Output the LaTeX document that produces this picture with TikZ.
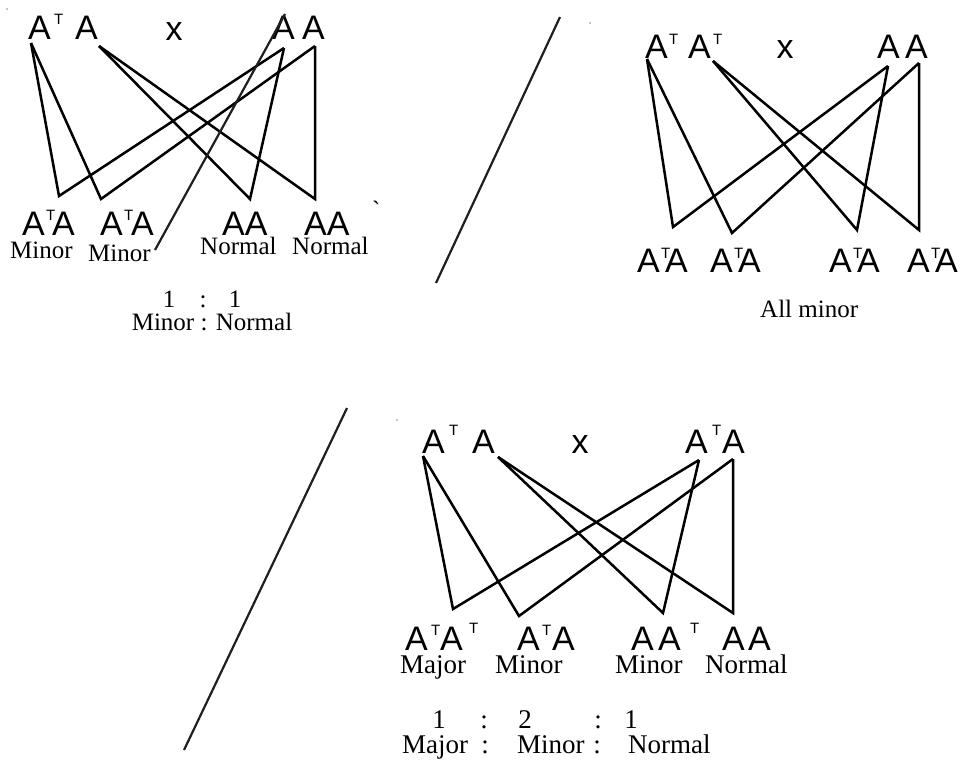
\documentclass[tikz,border=0pt]{standalone}
\usepackage{fontspec}
\setmainfont{Liberation Serif}
\newfontfamily\sansA{Liberation Sans}
\tikzset{
  g/.style={font=\sansA\fontsize{34}{34}\selectfont, inner sep=0pt, anchor=base west},
  gt/.style={font=\sansA\fontsize{15}{15}\selectfont, inner sep=0pt, anchor=base west},
  lb/.style={font=\fontsize{25}{25}\selectfont, inner sep=0pt, anchor=base west},
  lc/.style={font=\fontsize{25}{25}\selectfont, inner sep=0pt, anchor=base},
  lb3/.style={font=\fontsize{27}{27}\selectfont, inner sep=0pt, anchor=base west},
  lc3/.style={font=\fontsize{27}{27}\selectfont, inner sep=0pt, anchor=base},
  cross/.style={line width=2.5pt, line join=miter},
  slash/.style={line width=2.2pt, draw=black!88},
}
\begin{document}
\begin{tikzpicture}[x=1pt,y=-1pt]
\useasboundingbox[fill=white] (0,0) rectangle (964,761);

% ---------------- Panel 1 ----------------
\node[g]  (p1a)  at (28,39)  {A};
\node[gt] (p1aT) at (54,24)  {T};
\node[g]  (p1b)  at (75,39)  {A};
\node[g, anchor=base] (p1x) at (174,40) {x};
\node[g]  (p1c)  at (272,39) {A};
\node[g]  (p1d)  at (302,39) {A};

\coordinate (p1t1) at (31,43);
\coordinate (p1t2) at (99,46);
\coordinate (p1t3) at (284,48);
\coordinate (p1t4) at (315,46);
\coordinate (p1b1) at (59,196);
\coordinate (p1b2) at (101,199);
\coordinate (p1b3) at (250,199);
\coordinate (p1b4) at (315,199);
\draw[cross] (p1t1) -- (p1b1) -- (p1t3);
\draw[cross] (p1t1) -- (p1b2) -- (p1t4);
\draw[cross] (p1t2) -- (p1b3) -- (p1t3);
\draw[cross] (p1t2) -- (p1b4) -- (p1t4);

\node[g]  (p1e1)  at (22,235)  {A};
\node[gt] (p1e1T) at (46,220)  {T};
\node[g]  (p1e2)  at (52,235)  {A};
\node[g]  (p1f1)  at (100,235) {A};
\node[gt] (p1f1T) at (124,220) {T};
\node[g]  (p1f2)  at (131,235) {A};
\node[g]  (p1g)   at (222,235) {AA};
\node[g]  (p1h)   at (304,235) {AA};
\node[lb] (p1tick) at (372,218) {\textasciigrave};

\coordinate (p1s1) at (155,250);
\coordinate (p1s2) at (285,14);
\draw[slash] (p1s1) -- (p1s2);

\node[lb] (p1m1) at (10,258)  {Minor};
\node[lb] (p1m2) at (88,261)  {Minor};
\node[lb] (p1n1) at (200,254) {Normal};
\node[lb] (p1n2) at (292,254) {Normal};

\node[lc] (p1r1) at (169,307) {1};
\node[lc] (p1r2) at (203,307) {:};
\node[lc] (p1r3) at (235,307) {1};
\node[lc] (p1q)  at (212,330) {Minor : Normal};
\fill (7,9) circle (0.6);

% divider
\coordinate (d1a) at (560,17);
\coordinate (d1b) at (436,283);
\draw[slash] (d1a) -- (d1b);

% ---------------- Panel 2 ----------------
\node[g]  (p2a)  at (645,58) {A};
\node[gt] (p2aT) at (669,44) {T};
\node[g]  (p2b)  at (688,58) {A};
\node[gt] (p2bT) at (713,44) {T};
\node[g, anchor=base] (p2x) at (785,58) {x};
\node[g]  (p2c)  at (877,58) {A};
\node[g]  (p2d)  at (905,58) {A};

\coordinate (p2t1) at (647,59);
\coordinate (p2t2) at (713,61);
\coordinate (p2t3) at (888,66);
\coordinate (p2t4) at (919,63);
\coordinate (p2b1) at (673,227);
\coordinate (p2b2) at (732,233);
\coordinate (p2b3) at (857,230);
\coordinate (p2b4) at (919,230);
\draw[cross] (p2t1) -- (p2b1) -- (p2t3);
\draw[cross] (p2t1) -- (p2b2) -- (p2t4);
\draw[cross] (p2t2) -- (p2b3) -- (p2t3);
\draw[cross] (p2t2) -- (p2b4) -- (p2t4);

\node[g]  (p2e1)  at (637,272) {A};
\node[gt] (p2e1T) at (661,258) {T};
\node[g]  (p2e2)  at (665,272) {A};
\node[g]  (p2f1)  at (710,272) {A};
\node[gt] (p2f1T) at (734,258) {T};
\node[g]  (p2f2)  at (738,272) {A};
\node[g]  (p2g1)  at (829,272) {A};
\node[gt] (p2g1T) at (853,258) {T};
\node[g]  (p2g2)  at (857,272) {A};
\node[g]  (p2h1)  at (907,272) {A};
\node[gt] (p2h1T) at (931,258) {T};
\node[g]  (p2h2)  at (935,272) {A};

\node[lb] (p2all) at (760,317) {All minor};
\fill (590,23) circle (0.6);

% divider
\coordinate (d2a) at (347,408);
\coordinate (d2b) at (184,750);
\draw[slash] (d2a) -- (d2b);

% ---------------- Panel 3 ----------------
\node[g]  (p3a)  at (422,453) {A};
\node[gt] (p3aT) at (449,435) {T};
\node[g]  (p3b)  at (472,453) {A};
\node[g, anchor=base] (p3x) at (580,453) {x};
\node[g]  (p3c)  at (685,453) {A};
\node[gt] (p3cT) at (712,435) {T};
\node[g]  (p3d)  at (722,453) {A};

\coordinate (p3t1) at (423,456);
\coordinate (p3t2) at (498,457);
\coordinate (p3t3) at (699,460);
\coordinate (p3t4) at (733,459);
\coordinate (p3b1) at (453,609);
\coordinate (p3b2) at (519,616);
\coordinate (p3b3) at (663,613);
\coordinate (p3b4) at (733,613);
\draw[cross] (p3t1) -- (p3b1) -- (p3t3);
\draw[cross] (p3t1) -- (p3b2) -- (p3t4);
\draw[cross] (p3t2) -- (p3b3) -- (p3t3);
\draw[cross] (p3t2) -- (p3b4) -- (p3t4);

\node[g]  (p3e1)  at (405,650) {A};
\node[gt] (p3e1T) at (431,635) {T};
\node[g]  (p3e2)  at (440,650) {A};
\node[gt] (p3e2T) at (469,633) {T};
\node[g]  (p3f1)  at (517,650) {A};
\node[gt] (p3f1T) at (542,635) {T};
\node[g]  (p3f2)  at (552,650) {A};
\node[g]  (p3g1)  at (631,650) {A};
\node[g]  (p3g2)  at (658,650) {A};
\node[gt] (p3g2T) at (690,633) {T};
\node[g]  (p3h1)  at (722,650) {A};
\node[g]  (p3h2)  at (748,650) {A};

\node[lb3] (p3l1) at (400,673) {Major};
\node[lb3] (p3l2) at (495,673) {Minor};
\node[lb3] (p3l3) at (615,673) {Minor};
\node[lb3] (p3l4) at (705,673) {Normal};

\node[lc3] (p3r1) at (439,728) {1};
\node[lc3] (p3r2) at (484,728) {:};
\node[lc3] (p3r3) at (525,728) {2};
\node[lc3] (p3r4) at (598,728) {:};
\node[lc3] (p3r5) at (631,728) {1};

\node[lb3] (p3q1) at (402,753) {Major};
\node[lc3] (p3q2) at (485,753) {:};
\node[lb3] (p3q3) at (517,753) {Minor};
\node[lc3] (p3q4) at (597,753) {:};
\node[lb3] (p3q5) at (628,753) {Normal};
\fill (397,420) circle (0.6);
\end{tikzpicture}
\end{document}
